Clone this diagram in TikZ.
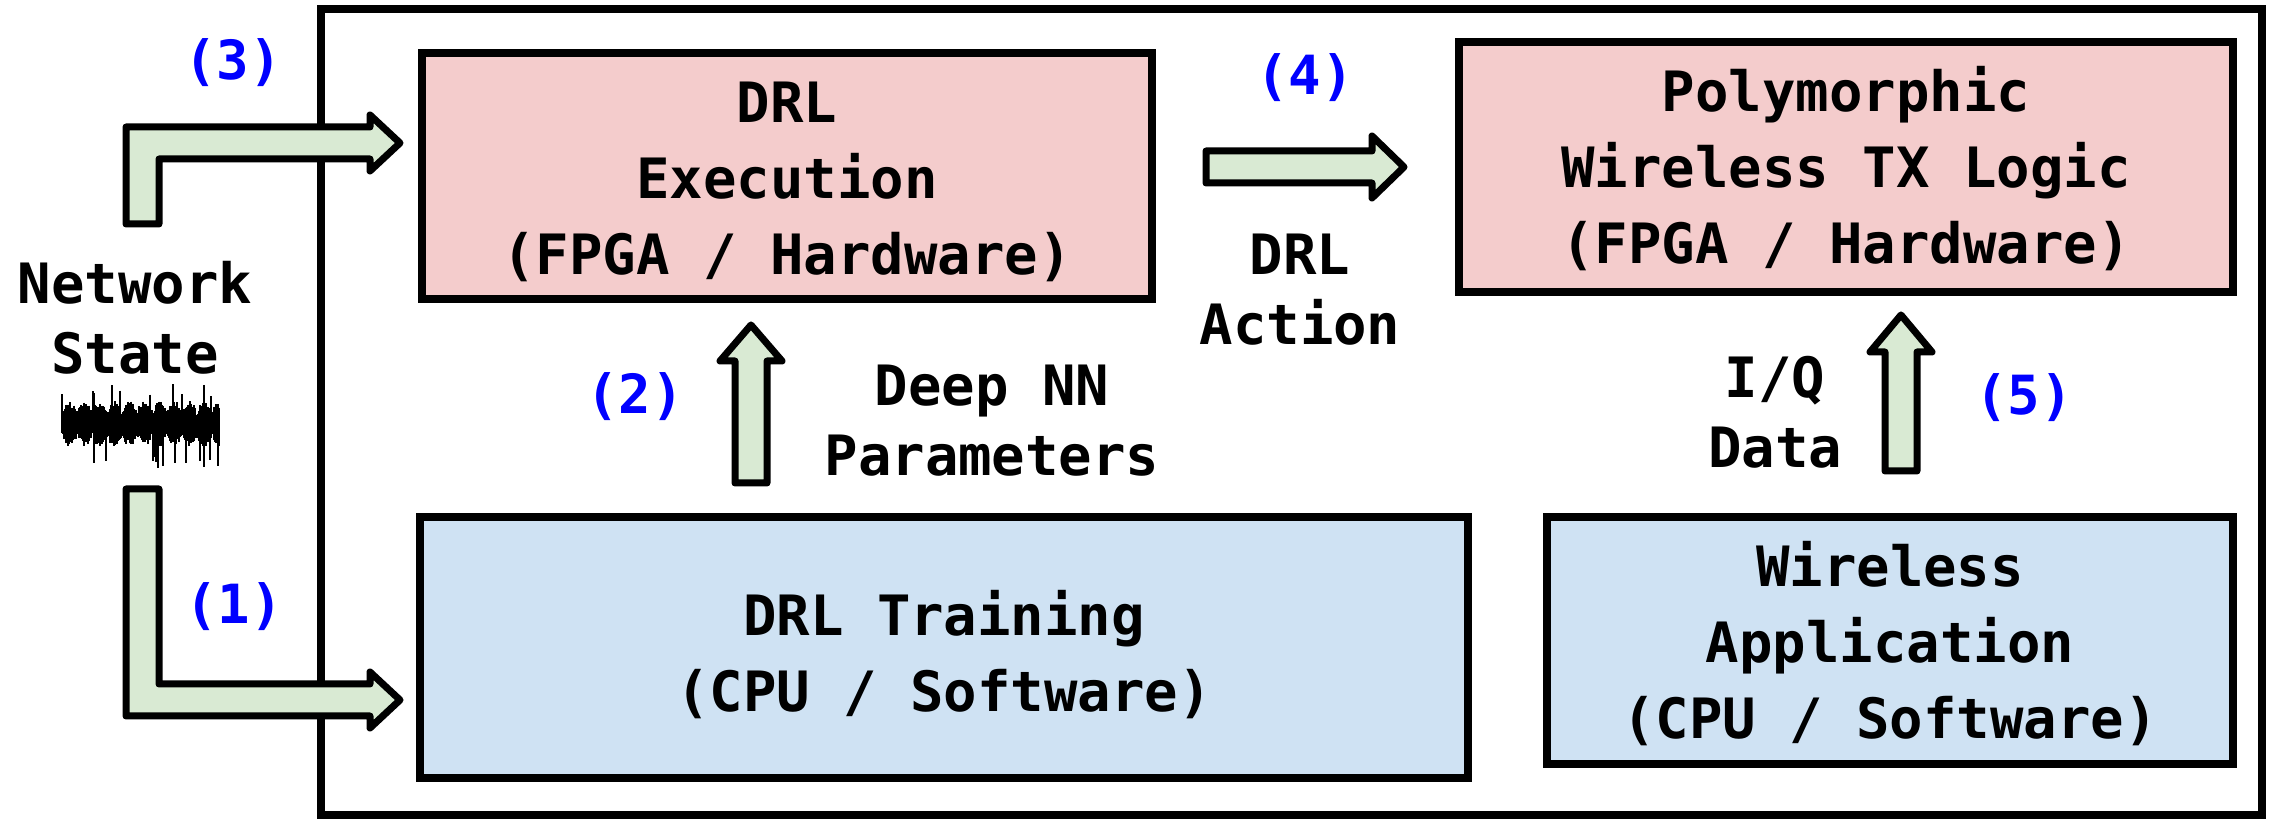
\documentclass[tikz,border=0pt]{standalone}
\usepackage{fontspec}
\setmonofont{DejaVu Sans Mono}
\definecolor{pinkfill}{HTML}{F4CCCC}
\definecolor{bluefill}{HTML}{CFE2F3}
\definecolor{greenfill}{HTML}{D9EAD3}
\definecolor{lblblue}{HTML}{0000FF}
\tikzset{
  boxnode/.style={draw, line width=2pt, inner sep=0pt},
  boxtxt/.style={align=center, inner sep=0pt,
    font=\ttfamily\bfseries\fontsize{13.9pt}{19pt}\selectfont},
  txt/.style={align=center, inner sep=0pt,
    font=\ttfamily\bfseries\fontsize{13.9pt}{17.5pt}\selectfont},
  lbl/.style={text=lblblue, inner sep=0pt,
    font=\ttfamily\bfseries\fontsize{13.5pt}{15pt}\selectfont},
  barrow/.style={draw, fill=greenfill, line width=1.75pt, line join=round}
}
\begin{document}
\begin{tikzpicture}[x=0.25pt, y=-0.25pt]
\useasboundingbox (0,0) rectangle (2272,821);
% outer frame
\draw[line width=2pt] (321,9) rectangle (2262,815);
% boxes
\node[boxnode, fill=pinkfill, minimum width=182.5pt, minimum height=61.5pt] (exec) at (787,176) {};
\node[boxtxt] (exect) at (787,182) {DRL\\Execution\\(FPGA / Hardware)};
\node[boxnode, fill=pinkfill, minimum width=193.5pt, minimum height=62.5pt] (poly) at (1846,167) {};
\node[boxtxt] (polyt) at (1846,169) {Polymorphic\\Wireless TX Logic\\(FPGA / Hardware)};
\node[boxnode, fill=bluefill, minimum width=262pt, minimum height=65.25pt] (train) at (944,647.5) {};
\node[boxtxt] (traint) at (944,655) {DRL Training\\(CPU / Software)};
\node[boxnode, fill=bluefill, minimum width=171.5pt, minimum height=61.75pt] (wapp) at (1890,640.5) {};
\node[boxtxt] (wappt) at (1890,644) {Wireless\\Application\\(CPU / Software)};
% block arrows
% (3)
\draw[barrow] (126,224) -- (126,127) -- (370,127) -- (370,115) -- (400,143) -- (370,171) -- (370,159) -- (159,159) -- (159,224) -- cycle;
% (1)
\draw[barrow] (126,489) -- (126,716) -- (370,716) -- (370,728) -- (400,700) -- (370,672) -- (370,684) -- (159,684) -- (159,489) -- cycle;
% (4)
\draw[barrow] (1206,151) -- (1372,151) -- (1372,136) -- (1404,167) -- (1372,198) -- (1372,183) -- (1206,183) -- cycle;
% (2)
\draw[barrow] (735,483) -- (735,361) -- (720,361) -- (751,325) -- (782,361) -- (767,361) -- (767,483) -- cycle;
% (5)
\draw[barrow] (1885,471) -- (1885,352) -- (1870,352) -- (1901,315) -- (1932,352) -- (1917,352) -- (1917,471) -- cycle;
% texts
\node[txt] (netstate) at (135,318) {Network\\State};
\node[txt] (drlaction) at (1300,290) {DRL\\Action};
\node[txt] (deepnn) at (992,421) {Deep NN\\Parameters};
\node[txt] (iqdata) at (1775,412) {I/Q\\Data};
% labels
\node[lbl] (l3) at (233,63) {(3)};
\node[lbl] (l4) at (1305,78) {(4)};
\node[lbl] (l2) at (635,397) {(2)};
\node[lbl] (l1) at (234,607) {(1)};
\node[lbl] (l5) at (2024,398) {(5)};
% waveform
\pgfmathsetseed{11}
\foreach \i in {0,...,157} {
  \pgfmathsetmacro{\env}{7+9*abs(sin(\i*12))}
  \pgfmathsetmacro{\up}{\env+7*rnd+18*(rnd>0.92)}
  \pgfmathsetmacro{\dn}{\env+7*rnd+22*(rnd>0.93)}
  \draw[line width=0.35pt] (62+\i,424-\up) -- (62+\i,424+\dn);
}
\end{tikzpicture}
\end{document}
